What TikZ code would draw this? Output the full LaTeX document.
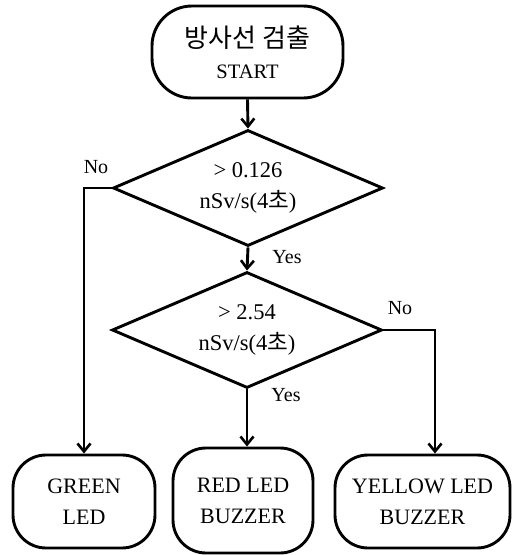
\documentclass[tikz,border=0pt]{standalone}
\usepackage{fontspec}
\setmainfont{Liberation Serif}
\newfontfamily\cjk{Noto Sans CJK KR}
\usetikzlibrary{shapes.geometric,arrows.meta}
\tikzset{
  flow/.style={line width=2.9pt, draw=black},
  arr/.style={flow, -{Straight Barb[length=8pt,width=13pt,line width=2.6pt]}},
  terminal/.style={draw=black, line width=2.9pt, rounded corners=#1, inner sep=0pt,
    align=center, font=\fontsize{22}{31}\selectfont},
  terminal/.default=33pt,
  decision/.style={draw=black, line width=2.9pt, diamond, aspect=2.33, inner sep=0pt,
    minimum width=270pt, minimum height=116pt, align=center,
    font=\fontsize{22.5}{31}\selectfont},
  lbl/.style={font=\fontsize{20}{24}\selectfont, inner sep=0pt},
}
\begin{document}
\begin{tikzpicture}[x=1pt,y=-1pt]
\useasboundingbox (0,0) rectangle (532,555);

% start terminal
\node[terminal=40pt, minimum width=191pt, minimum height=92pt] (start) at (247.5,52)
  {{\cjk\fontsize{26}{31}\selectfont 방사선 검출}\\{\fontsize{20.5}{31}\selectfont START}};

% decisions
\node[decision] (d1) at (248,188) {> 0.126\\nSv/s({4\cjk 초})};
\node[decision] (d2) at (247,330) {> 2.54\\nSv/s({4\cjk 초})};

% outcome terminals
\node[terminal, minimum width=142pt, minimum height=93pt] (green) at (84,501.5) {GREEN\\LED};
\node[terminal, minimum width=140pt, minimum height=105pt] (red) at (243,500.5) {RED LED\\BUZZER};
\node[terminal, minimum width=175pt, minimum height=93pt] (yellow) at (422.5,501.5) {YELLOW LED\\BUZZER};

% connectors
\draw[arr] (start.south) -- (d1.north);
\draw[arr] (d1.south) -- (d2.north);
\draw[arr] (d1.west) -| (green.north);
\draw[arr] (d2.south) -- (d2.south |- red.north);
\coordinate (yin) at ([xshift=12.5pt]yellow.north);
\draw[arr] (d2.east) -| (yin);

% branch labels
\node[lbl] (no1) at (96,167) {No};
\node[lbl] (yes1) at (287,257) {Yes};
\node[lbl] (no2) at (400,308) {No};
\node[lbl] (yes2) at (286,395) {Yes};
\end{tikzpicture}
\end{document}
